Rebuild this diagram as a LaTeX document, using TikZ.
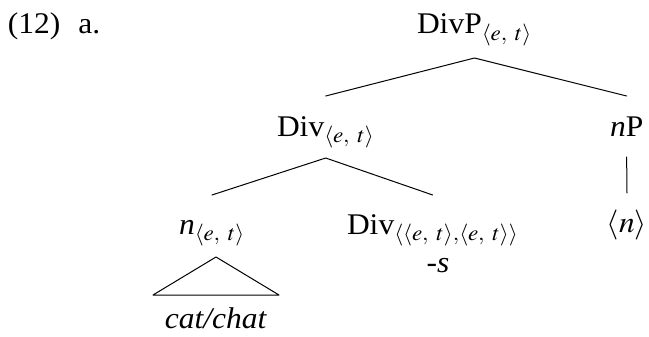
\documentclass[tikz,border=0pt]{standalone}
\usepackage{mathptmx}
\usepackage{graphicx}
\usepackage{fontspec}
\setmainfont{Liberation Serif}
\DeclareMathSizes{30}{30}{22}{16}
\newcommand{\et}{\langle e,\ t\rangle}
% labels are set slightly wide
\newcommand{\lbl}[1]{\scalebox{1.05}[1]{#1}}
\begin{document}
\begin{tikzpicture}[x=1pt,y=-1pt,
  every node/.style={inner sep=0pt, outer sep=0pt, font=\fontsize{30}{34}\selectfont},
  edge/.style={line width=1pt, line cap=round, line join=round}]
\useasboundingbox (0,0) rectangle (649,337);
% example number
\node[anchor=base west] (ex) at (8,34) {\lbl{(12)\hspace{17pt}a.}};
% tree labels
\node[anchor=base west] (divp) at (417,34) {\lbl{DivP$_{\et}$}};
\node[anchor=base west] (div) at (277,136) {\lbl{Div$_{\et}$}};
\node[anchor=base west] (np) at (610,136) {\lbl{\textit{n}P}};
\node[anchor=base] (ntr) at (627,233) {\lbl{$\langle n\rangle$}};
\node[anchor=base west] (nn) at (179,234) {\lbl{\textit{n}$_{\et}$}};
\node[anchor=base west] (divs) at (347,234) {\lbl{Div$_{\langle\et,\et\rangle}$}};
\node[anchor=base] (suf) at (438,272) {\lbl{-\textit{s}}};
\node[anchor=base] (cat) at (216,328) {\lbl{\textit{cat/chat}}};
% branches
\draw[edge] (div.north |- 0,96) -- (divp.south |- 0,58) -- (np.north |- 0,96);
\draw[edge] (nn.north |- 0,195) -- (div.south |- 0,158) -- (divs.north |- 0,195);
\draw[edge] (np.south |- 0,157) -- (ntr.north |- 0,193);
% roof over the lexical item
\draw[edge] (cat.north |- 0,257) -- ++(-63,38) -- ++(126,0) -- cycle;
\end{tikzpicture}
\end{document}
